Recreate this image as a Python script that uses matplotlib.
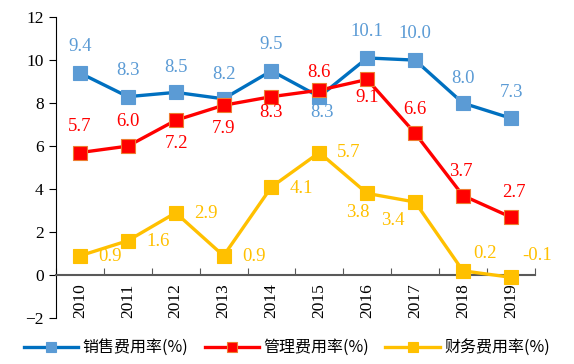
import numpy as np
import matplotlib
matplotlib.use('Agg')
import matplotlib.pyplot as plt

years = ['2010', '2011', '2012', '2013', '2014', '2015', '2016', '2017', '2018', '2019']
sales = [9.4, 8.3, 8.5, 8.2, 9.5, 8.3, 10.1, 10.0, 8.0, 7.3]
admin = [5.7, 6.0, 7.2, 7.9, 8.3, 8.6, 9.1, 6.6, 3.7, 2.7]
finance = [0.9, 1.6, 2.9, 0.9, 4.1, 5.7, 3.8, 3.4, 0.2, -0.1]
names = ['销售费用率(%)', '管理费用率(%)', '财务费用率(%)']

# label offsets in pixels (dx, dy)
sales_off = [(0, 27), (0, 26), (0, 25), (0, 24), (0, 26), (3, -16), (0, 26), (0, 27), (0, 25), (1, 26)]
admin_off = [(0, 26), (0, 25), (1, -23), (0, -23), (0, -16), (0, 18), (0, -18), (0, 24), (-2, 24), (3, 25)]
fin_off = [(30, -1), (30, -1), (30, -1), (30, -1), (30, -2), (29, 0), (-9, -19), (-22, -18), (22, 17), (26, 22)]

serif = ['Liberation Serif', 'DejaVu Serif']
plt.rcParams['font.family'] = serif

fig = plt.figure(figsize=(5.74, 3.64), dpi=100)
ax = fig.add_axes([0.0976, 0.126, 0.834, 0.827])

x = np.arange(len(years))
series = [
    (sales, '#0070C0', '#5B9BD5', '#5B9BD5', '#5B9BD5', sales_off),
    (admin, '#FF0000', '#FF0000', '#ED7D31', '#FF0000', admin_off),
    (finance, '#FFC000', '#FFC000', '#FFC000', '#FFC000', fin_off),
]
handles = []
for (vals, lc, mfc, mec, tc, offs), name in zip(series, names):
    h, = ax.plot(x, vals, color=lc, lw=2.4, marker='s', markersize=9.5,
                 markerfacecolor=mfc, markeredgecolor=mec, markeredgewidth=0.8,
                 label=name, zorder=3)
    handles.append(h)
    for xi, v, (dx, dy) in zip(x, vals, offs):
        ax.annotate(f'{v:.1f}', (xi, v), xytext=(dx, dy), textcoords='offset pixels',
                    ha='center', va='center', color=tc, fontsize=13.5)

ax.set_xlim(-0.5, len(years) - 0.5)
ax.set_ylim(-2, 12)
ax.set_yticks(range(-2, 13, 2))
ax.tick_params(axis='y', direction='out', length=5, labelsize=12.5, color='black', pad=4)

ax.spines['top'].set_visible(False)
ax.spines['right'].set_visible(False)
ax.spines['left'].set_color('black')
ax.spines['bottom'].set_position(('data', 0))
ax.spines['bottom'].set_color('#595959')
ax.spines['bottom'].set_linewidth(1.5)

ax.set_xticks(np.arange(-0.5, len(years), 1.0))
ax.set_xticklabels([])
ax.set_xticks(x, minor=True)
ax.set_xticklabels(years, minor=True, rotation=90, fontsize=12.5)
ax.tick_params(axis='x', which='major', direction='in', length=5, color='#595959')
ax.tick_params(axis='x', which='minor', length=0, pad=6)

leg = fig.legend(handles=handles, loc='center', bbox_to_anchor=(0.5, 0.045), ncol=3,
                 frameon=False, handlelength=3.4, columnspacing=1.0, handletextpad=0.3,
                 markerscale=0.8,
                 prop={'family': ['Noto Sans CJK SC', 'DejaVu Sans'], 'size': 11.5})

fig.savefig('out.png', dpi=100)
